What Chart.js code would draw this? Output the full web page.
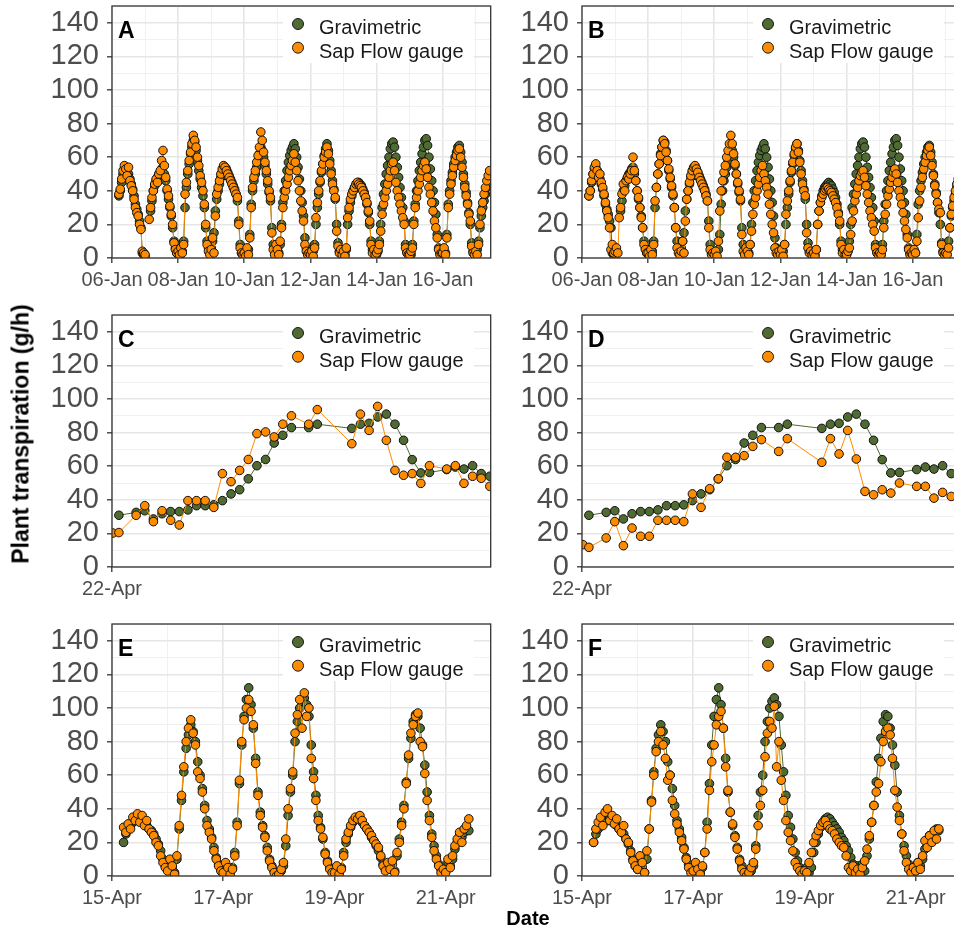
<!DOCTYPE html>
<html lang="en">
<head>
<meta charset="utf-8">
<title>Plant transpiration</title>
<script src="https://cdn.jsdelivr.net/npm/chart.js@4.4.1/dist/chart.umd.min.js"></script>
<style>
  html, body { margin: 0; padding: 0; background: #fff; }
  body { position: relative; width: 954px; height: 930px; overflow: hidden; font-family: "Liberation Sans", Arial, sans-serif; }
  canvas { position: absolute; }
  #yTitle { position: absolute; left: 21px; top: 434px; transform: translate(-50%, -50%) rotate(-90deg); font-size: 23px; font-weight: bold; white-space: nowrap; color: #000; }
  #xTitle { position: absolute; left: 528px; top: 918px; transform: translate(-50%, -50%); font-size: 20px; font-weight: bold; color: #000; }
</style>
</head>
<body>
<canvas id="panelA" width="496" height="294" style="left:0px;top:0px"></canvas>
<canvas id="panelB" width="496" height="294" style="left:470px;top:0px"></canvas>
<canvas id="panelC" width="496" height="294" style="left:0px;top:309px"></canvas>
<canvas id="panelD" width="496" height="294" style="left:470px;top:309px"></canvas>
<canvas id="panelE" width="496" height="294" style="left:0px;top:618px"></canvas>
<canvas id="panelF" width="496" height="294" style="left:470px;top:618px"></canvas>
<div id="yTitle">Plant transpiration (g/h)</div>
<div id="xTitle">Date</div>
<script>
// ---- January run (panels A, B): hourly readings from 06-Jan 05:00 ----
const janStartHour = 5;
const janTickDays = [0, 2, 4, 6, 8, 10];
const janTickLabels = ['06-Jan', '08-Jan', '10-Jan', '12-Jan', '14-Jan', '16-Jan'];
const janGrid = [0, 1, 2, 3, 4, 5, 6, 7, 8, 9, 10, 11];
const janMax = 11.45;

const janGrav = [
  37, 40, 45, 50, 53, 54, 52, 50, 47, 44, 41, 37, 32, 29, 26, 22, 18, 3, 2,
  1, null, null, null, 28, 34, 40, 43, 46, 48, 50, 51, 53, 54, 50, 46, 40, 35, 30, 25, 18, 10, 6, 3,
  3, 1, 5, 4, 10, 30, 42, 50, 56, 62, 66, 70, 69, 64, 58, 52, 47, 42, 37, 30, 18, 10, 6, 3,
  6, 10, 15, 28, 35, 40, 44, 48, 51, 53, 54, 53, 51, 49, 47, 45, 43, 41, 38, 34, 22, 8, 3, 2,
  2, 3, 4, 5, 14, 32, 40, 46, 50, 54, 58, 62, 66, 64, 60, 55, 50, 44, 39, 34, 18, 8, 4, 3,
  4, 3, 8, 20, 33, 40, 46, 52, 57, 61, 64, 66, 68, 65, 60, 54, 47, 40, 33, 25, 12, 6, 3, 2,
  3, 2, 4, 8, 20, 30, 38, 45, 51, 56, 61, 65, 68, 64, 58, 52, 46, 41, 35, 20, 9, 4, 3, 2,
  3, 2, 5, 20, 28, 33, 37, 40, 42, 43, 44, 45, 44, 43, 41, 39, 36, 32, 27, 20, 10, 5, 3, 4,
  2, 4, 10, 20, 30, 38, 44, 50, 55, 60, 65, 68, 69, 66, 60, 54, 48, 42, 36, 30, 22, 8, 4, 3,
  3, 2, 8, 22, 32, 40, 46, 52, 57, 62, 66, 70, 71, 67, 60, 53, 46, 40, 33, 26, 14, 6, 3, 2,
  2, 4, 3, 14, 32, 40, 46, 51, 56, 60, 63, 66, 67, 63, 57, 50, 44, 39, 33, 27, 20, 9, 4, 3,
  3, 5, 10, 18, 25, 30, 34, 38, 42, 45, 48
];
const janSapA = [
  38, 41, 47, 52, 55, 53, 49, 54, 46, 43, 40, 35, 30, 27, 25, 20, 17, 4, 3,
  2, null, null, 23, 30, 36, 40, 44, 47, 45, 50, 52, 58, 64, 55, 48, 41, 37, 31, 26, 20, 9, 5, 3,
  4, 2, 6, 3, 8, 38, 45, 52, 58, 63, 68, 73, 70, 66, 60, 55, 49, 45, 40, 32, 20, 8, 4, 2,
  5, 12, 3, 25, 38, 42, 46, 50, 53, 55, 54, 52, 50, 48, 46, 44, 42, 40, 38, 36, 20, 6, 3, 2,
  3, 1, 6, 2, 12, 30, 42, 48, 52, 57, 61, 66, 75, 70, 63, 57, 52, 46, 40, 36, 15, 5, 2, 8,
  5, 2, 10, 18, 30, 36, 40, 44, 48, 52, 55, 58, 62, 57, 52, 46, 40, 34, 28, 22, 8, 4, 2, 3,
  2, 4, 1, 6, 24, 33, 40, 46, 52, 56, 60, 63, 66, 62, 56, 50, 44, 40, 36, 16, 7, 3, 5, 2,
  4, 1, 6, 24, 30, 35, 38, 40, 42, 44, 45, 44, 43, 42, 40, 38, 36, 33, 28, 22, 8, 3, 5, 2,
  3, 5, 8, 16, 26, 32, 36, 40, 44, 48, 52, 56, 57, 52, 45, 40, 36, 32, 28, 24, 20, 6, 3, 2,
  2, 4, 6, 20, 30, 36, 40, 44, 48, 52, 55, 57, 53, 48, 42, 38, 33, 28, 22, 18, 12, 5, 2, 3,
  3, 6, 2, 12, 30, 38, 44, 49, 54, 58, 61, 64, 65, 60, 54, 48, 42, 37, 32, 26, 22, 7, 3, 2,
  4, 2, 8, 20, 28, 33, 38, 42, 46, 49, 52
];
const janSapB = [
  37, 40, 46, 50, 54, 56, 52, 48, 50, 45, 42, 38, 33, 28, 24, 18, 5, 8, 3,
  4, 6, 3, 24, 30, 38, 44, 40, 46, 48, 47, 50, 52, 60, 52, 46, 40, 36, 30, 24, 18, 8, 5, 3,
  3, 1, 5, 2, 8, 34, 42, 50, 56, 61, 66, 70, 68, 63, 58, 53, 48, 43, 38, 30, 18, 6, 3, 2,
  4, 10, 3, 22, 35, 40, 45, 49, 52, 54, 55, 53, 51, 48, 46, 44, 42, 40, 37, 34, 18, 5, 2, 3,
  2, 4, 1, 10, 28, 40, 46, 51, 55, 60, 64, 68, 73, 68, 62, 56, 50, 45, 40, 35, 14, 4, 2, 6,
  4, 2, 8, 16, 26, 32, 36, 40, 44, 48, 52, 55, 50, 46, 42, 38, 32, 26, 20, 15, 6, 3, 2, 4,
  2, 5, 1, 8, 26, 34, 40, 46, 52, 57, 62, 66, 68, 63, 57, 50, 44, 40, 37, 15, 6, 3, 4, 2,
  3, 1, 5, 20, 28, 33, 36, 38, 40, 41, 42, 41, 40, 39, 37, 35, 33, 30, 26, 22, 8, 3, 5, 2,
  2, 4, 6, 14, 22, 28, 34, 38, 42, 46, 49, 51, 52, 48, 43, 38, 33, 28, 24, 20, 16, 6, 3, 2,
  3, 2, 5, 18, 26, 32, 37, 41, 45, 48, 51, 53, 50, 45, 40, 36, 32, 27, 22, 17, 12, 5, 2, 3,
  2, 5, 3, 10, 24, 34, 42, 48, 53, 57, 61, 64, 66, 61, 55, 49, 43, 38, 33, 29, 27, 8, 3, 2,
  3, 2, 6, 18, 26, 31, 36, 40, 44, 47, 50
];

// ---- single day (panels C, D): half-hourly readings, hours after 22-Apr 00:00 ----
const dayTickHours = [0];
const dayTickLabels = ['22-Apr'];
const dayGrid = [0];
const dayMax = 21.95;
const dayHours = [0.05, 0.4, 1.4, 1.9, 2.4, 2.9, 3.4, 3.9, 4.4, 4.9, 5.4, 5.9, 6.4, 6.9, 7.4, 7.9,
  8.4, 8.9, 9.4, 9.9, 10.4, 11.4, 11.9, 13.9, 14.4, 14.9, 15.4, 15.9, 16.4, 16.9, 17.4, 17.9,
  18.4, 19.4, 19.9, 20.4, 20.9, 21.4, 21.9];
const dayGrav = [null, 30.8, 32.5, 33.5, 28.6, 31.7, 33, 33, 34, 36.5, 36.5, 37, 39.5, 43.5, 46, 52.5,
  60.3, 64, 73.8, 78.4, 83, 83, 85, 82.5, 85, 85.5, 89.3, 91, 85, 75.4, 63.9, 56,
  56.3, 58, 59.5, 58.3, 60.3, 55.6, 54];
const daySapC = [20.2, 20.5, 30.8, 36.5, 27, 33.5, 27.8, 25, 39.5, 39.5, 39.5, 35.5, 55.6, 50.8, 57.5, 64,
  79.4, 80.4, 77.4, 85, 90, 85, 93.7, 73.4, 91, 81.3, 95.6, 75.4, 57.5, 54.6, 55.6, 49.8,
  60.3, 58.3, 60.3, 49.8, 54, 52.8, 48];
const daySapD = [13.3, 11.7, 17.3, 27, 12.7, 23.2, 18.3, 18.3, 27.8, 27.8, 27.8, 27, 43.5, 35.5, 46.6, 52.5,
  65.3, 65.3, 66.3, 71.8, 75.8, 68.8, 76.4, 62.3, 76.4, 67.3, 81.3, 64.3, 45, 43, 46, 44,
  50, 48, 48, 41, 44.4, 42, 40];

// ---- April run (panels E, F): hourly readings from 15-Apr 05:00 ----
const aprStartHour = 5;
const aprTickDays = [0, 2, 4, 6];
const aprTickLabels = ['15-Apr', '17-Apr', '19-Apr', '21-Apr'];
const aprGrid = [0, 1, 2, 3, 4, 5, 6];
const aprMax = 6.81;

const aprGrav = [
  20, 25, 28, 30, 32, 34, 33, 35, 34, 31, 30, 28, 27, 25, 22, 19, 15, 10, 6,
  4, 8, 5, 2, 10, 28, 45, 62, 76, 84, 90, 86, 80, 68, 60, 52, 42, 33, 28, 23, 17, 11, 7, 4,
  3, 6, 4, 2, 5, 14, 32, 55, 78, 95, 105, 112, 102, 88, 70, 50, 38, 30, 24, 17, 10, 6, 3, 1,
  2, 3, 6, 18, 36, 50, 60, 80, 92, 100, 104, 106, 102, 95, 78, 62, 48, 36, 29, 22, 14, 9, 5, 3,
  3, 5, 2, 5, 14, 20, 25, 29, 32, 34, 35, 34, 32, 30, 28, 26, 23, 21, 18, 15, 11, 7, 4, 6,
  5, 7, 3, 12, 22, 32, 42, 56, 70, 82, 92, 96, 95, 88, 78, 66, 50, 36, 25, 18, 12, 7, 4, 3,
  3, 8, 6, 10, 16, 20, 24, 23, 26, 28, 27
];
const aprSapE = [
  29, 26, 31, 28, 35, 33, 37, 32, 36, 30, 33, 28, 26, 24, 20, 18, 12, 8, 5,
  3, 10, 6, 1, 12, 30, 48, 65, 80, 88, 93, 85, 78, 62, 58, 50, 40, 30, 26, 22, 15, 10, 6, 3,
  2, 8, 5, 1, 4, 12, 30, 57, 80, 93, 100, 105, 98, 90, 67, 48, 36, 29, 23, 15, 9, 5, 2, 0,
  1, 4, 8, 22, 40, 52, 62, 85, 96, 105, 88, 109, 95, 100, 70, 58, 45, 33, 28, 23, 13, 8, 4, 2,
  2, 6, 1, 4, 12, 22, 26, 30, 33, 35, 34, 36, 33, 30, 28, 26, 24, 21, 19, 17, 12, 6, 3, 8,
  4, 9, 2, 14, 20, 30, 40, 55, 72, 85, 90, 95, 97, 80, 77, 61, 45, 33, 23, 15, 10, 6, 2, 4,
  2, 10, 5, 12, 18, 22, 26, 20, 28, 30, 34
];
const aprSapF = [
  20, 28, 32, 35, 30, 38, 40, 33, 36, 31, 34, 28, 26, 30, 22, 20, 14, 9, 6,
  4, 12, 8, 2, 15, 28, 44, 60, 74, 80, 86, 78, 70, 57, 60, 45, 37, 31, 26, 21, 16, 10, 5, 2,
  3, 8, 4, 1, 6, 14, 28, 51, 68, 78, 90, 95, 98, 88, 65, 51, 38, 31, 23, 16, 9, 4, 2, 0,
  2, 5, 8, 16, 30, 42, 51, 71, 85, 92, 88, 101, 65, 80, 57, 45, 33, 26, 21, 15, 8, 5, 3, 1,
  3, 2, 8, 14, 20, 24, 27, 30, 32, 33, 30, 28, 27, 25, 22, 20, 18, 17, 12, 5, 3, 6, 2, 4,
  1, 5, 9, 16, 24, 32, 42, 50, 55, 68, 80, 86, 88, 84, 70, 51, 41, 33, 25, 15, 8, 4, 2, 5,
  3, 8, 4, 12, 21, 17, 24, 20, 27, 22, 28
];

// y axis: labelled breaks and the minor lines between them
const yBreaks = [0, 20, 40, 60, 80, 100, 120, 140];
const yGrid = [0, 10, 20, 30, 40, 50, 60, 70, 80, 90, 100, 110, 120, 130, 140, 150];

const GREEN = '#4f6b32';
const ORANGE = '#ff8c00';
const FONT = '"Liberation Sans", Arial, sans-serif';
const AXIS_TEXT = '#4d4d4d';
const GRID_MAJOR = '#e6e6e6';
const GRID_MINOR = '#f1f1f1';
const INK = '#333333';

// x in days for the hourly runs
function hourly(startHour, values) {
  return values.map((v, i) => ({ x: (startHour + i) / 24, y: v }));
}
function atHours(hours, values) {
  return hours.map((h, i) => ({ x: h, y: values[i] }));
}

function series(label, data, colour) {
  return {
    label: label,
    data: data,
    borderColor: colour,
    borderWidth: 1,
    backgroundColor: colour,
    pointBackgroundColor: colour,
    pointBorderColor: '#111',
    pointBorderWidth: 1,
    pointRadius: 4.3,
    pointHoverRadius: 4.3,
    tension: 0,
    spanGaps: false,
    clip: 0
  };
}

// panel frame, in-panel legend and the panel letter
const panelDecor = {
  id: 'panelDecor',
  afterDraw(chart, args, opts) {
    const { ctx, chartArea: a } = chart;
    ctx.save();
    ctx.strokeStyle = INK;
    ctx.lineWidth = 1.3;
    ctx.strokeRect(a.left, a.top, a.right - a.left, a.bottom - a.top);

    ctx.fillStyle = '#fff';
    ctx.fillRect(a.left + 171, a.top + 1, 191, 56);
    const keys = [['Gravimetric', GREEN], ['Sap Flow gauge', ORANGE]];
    keys.forEach(([name, colour], i) => {
      const cy = a.top + 18 + i * 23.7;
      ctx.beginPath();
      ctx.arc(a.left + 186, cy, 5.5, 0, Math.PI * 2);
      ctx.fillStyle = colour;
      ctx.fill();
      ctx.lineWidth = 1;
      ctx.strokeStyle = '#1a1a1a';
      ctx.stroke();
      ctx.fillStyle = '#1a1a1a';
      ctx.font = '20px ' + FONT;
      ctx.textBaseline = 'alphabetic';
      ctx.textAlign = 'left';
      ctx.fillText(name, a.left + 207, cy + 10.3);
    });

    ctx.font = 'bold 23px ' + FONT;
    ctx.fillStyle = '#000';
    ctx.fillText(opts.letter, a.left + 6, a.top + 31.7);
    ctx.restore();
  }
};

function makePanel(id, letter, grav, sap, xAxis) {
  const isMajorX = v => xAxis.at.includes(v);
  return new Chart(document.getElementById(id), {
    type: 'line',
    data: { datasets: [series('Sap Flow gauge', sap, ORANGE), series('Gravimetric', grav, GREEN)] },
    options: {
      responsive: false,
      animation: false,
      events: [],
      layout: { padding: { top: 6, right: 2, bottom: 0, left: 0 } },
      plugins: {
        legend: { display: false },
        tooltip: { enabled: false },
        panelDecor: { letter: letter }
      },
      scales: {
        x: {
          type: 'linear',
          min: 0,
          max: xAxis.max,
          afterBuildTicks: s => { s.ticks = xAxis.grid.map(v => ({ value: v })); },
          afterFit: s => { s.height = 36; s.paddingLeft = 0; s.paddingRight = 0; },
          ticks: {
            autoSkip: false,
            maxRotation: 0,
            padding: 5,
            color: AXIS_TEXT,
            font: { family: FONT, size: 20 },
            callback: v => { const k = xAxis.at.indexOf(v); return k < 0 ? '' : xAxis.labels[k]; }
          },
          grid: {
            color: c => isMajorX(c.tick.value) ? GRID_MAJOR : GRID_MINOR,
            lineWidth: c => isMajorX(c.tick.value) ? 1.6 : 1,
            tickLength: 5,
            tickWidth: 1.3,
            tickColor: c => isMajorX(c.tick.value) ? INK : 'rgba(0,0,0,0)'
          },
          border: { display: false }
        },
        y: {
          min: 0,
          max: 150,
          afterBuildTicks: s => { s.ticks = yGrid.map(v => ({ value: v })); },
          afterFit: s => { s.width = 112; s.paddingTop = 0; s.paddingBottom = 0; },
          ticks: {
            autoSkip: false,
            padding: 8,
            color: AXIS_TEXT,
            font: { family: FONT, size: 29 },
            callback: v => yBreaks.includes(v) ? String(v) : ''
          },
          grid: {
            color: c => yBreaks.includes(c.tick.value) ? GRID_MAJOR : GRID_MINOR,
            lineWidth: c => yBreaks.includes(c.tick.value) ? 1.6 : 1,
            tickLength: 5,
            tickWidth: 1.3,
            tickColor: c => yBreaks.includes(c.tick.value) ? INK : 'rgba(0,0,0,0)'
          },
          border: { display: false }
        }
      }
    },
    plugins: [panelDecor]
  });
}

const janAxis = { max: janMax, grid: janGrid, at: janTickDays, labels: janTickLabels };
const dayAxis = { max: dayMax, grid: dayGrid, at: dayTickHours, labels: dayTickLabels };
const aprAxis = { max: aprMax, grid: aprGrid, at: aprTickDays, labels: aprTickLabels };

makePanel('panelA', 'A', hourly(janStartHour, janGrav), hourly(janStartHour, janSapA), janAxis);
makePanel('panelB', 'B', hourly(janStartHour, janGrav), hourly(janStartHour, janSapB), janAxis);
makePanel('panelC', 'C', atHours(dayHours, dayGrav), atHours(dayHours, daySapC), dayAxis);
makePanel('panelD', 'D', atHours(dayHours, dayGrav), atHours(dayHours, daySapD), dayAxis);
makePanel('panelE', 'E', hourly(aprStartHour, aprGrav), hourly(aprStartHour, aprSapE), aprAxis);
makePanel('panelF', 'F', hourly(aprStartHour, aprGrav), hourly(aprStartHour, aprSapF), aprAxis);
</script>
</body>
</html>
